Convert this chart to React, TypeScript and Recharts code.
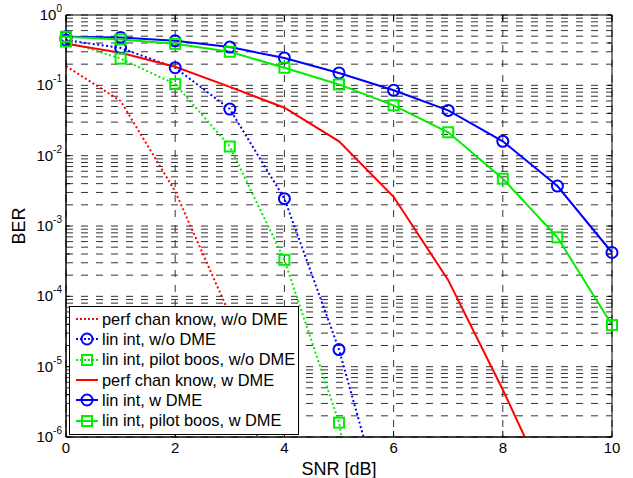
import {
    LineChart,
    Line,
    XAxis,
    YAxis,
    CartesianGrid,
    Legend,
    ReferenceArea,
    ReferenceLine,
} from 'recharts';

const snr = [0, 1, 2, 3, 4, 5, 6, 7, 8, 9, 10];

// BER (values below 1e-6 only carry the line off the bottom edge)
const perfWoDme = [0.188, 0.06, 0.0031, 5.5e-5, 2e-8];
const linWoDme = [0.44, 0.34, 0.178, 0.046, 0.00245, 1.75e-5, 3e-8];
const pilotWoDme = [0.42, 0.24, 0.104, 0.0135, 3.3e-4, 1.6e-6, 1e-10];
const perfDme = [0.39, 0.29, 0.184, 0.095, 0.048, 0.016, 0.0026, 1.7e-4, 4.7e-6, 1e-7];
const linDme = [0.49, 0.48, 0.43, 0.35, 0.245, 0.15, 0.085, 0.044, 0.016, 0.0037, 0.00042];
const pilotDme = [0.49, 0.45, 0.39, 0.3, 0.178, 0.103, 0.052, 0.0215, 0.0047, 0.00069, 3.9e-5];

const xTicks = [0, 2, 4, 6, 8, 10];
const yTicks = [1e-6, 1e-5, 1e-4, 1e-3, 1e-2, 1e-1, 1];

// log minor grid: 1..9 x 10^e
const minorGrid: number[] = [];
for (let e = -6; e < 0; e++) {
    for (let m = 1; m < 10; m++) minorGrid.push(m * Math.pow(10, e));
}
minorGrid.push(1);

type Marker = 'none' | 'circle' | 'square';

const series: { key: string; name: string; values: number[]; color: string; dotted: boolean; marker: Marker }[] = [
    { key: 'perfWoDme', name: 'perf chan know, w/o DME', values: perfWoDme, color: '#ff0000', dotted: true, marker: 'none' },
    { key: 'linWoDme', name: 'lin int, w/o DME', values: linWoDme, color: '#0000ff', dotted: true, marker: 'circle' },
    { key: 'pilotWoDme', name: 'lin int, pilot boos, w/o DME', values: pilotWoDme, color: '#00ee00', dotted: true, marker: 'square' },
    { key: 'perfDme', name: 'perf chan know, w DME', values: perfDme, color: '#ff0000', dotted: false, marker: 'none' },
    { key: 'linDme', name: 'lin int, w DME', values: linDme, color: '#0000ff', dotted: false, marker: 'circle' },
    { key: 'pilotDme', name: 'lin int, pilot boos, w DME', values: pilotDme, color: '#00ee00', dotted: false, marker: 'square' },
];

const data = snr.map((x, i) => {
    const row: Record<string, number | null> = { snr: x };
    series.forEach((s) => {
        row[s.key] = i < s.values.length ? s.values[i] : null;
    });
    return row;
});

const FONT = '"Liberation Sans", Arial, Helvetica, sans-serif';

function markerShape(marker: Marker, color: string, cx: number, cy: number, key?: string | number) {
    if (marker === 'circle') {
        return <circle key={key} cx={cx} cy={cy} r={5.5} fill="none" stroke={color} strokeWidth={2} />;
    }
    if (marker === 'square') {
        return <rect key={key} x={cx - 5} y={cy - 5} width={10} height={10} fill="none" stroke={color} strokeWidth={2} />;
    }
    return <g key={key} />;
}

const makeDot = (marker: Marker, color: string) => (props: any) => {
    const { cx, cy, index, value } = props;
    if (cx == null || cy == null || value == null) return <g key={`d${index}`} />;
    return markerShape(marker, color, cx, cy, `d${index}`);
};

const PowerTick = (props: any) => {
    const { x, y, payload } = props;
    const exp = Math.round(Math.log10(payload.value));
    return (
        <text x={x} y={y} textAnchor="end" fontFamily={FONT} fill="#000">
            <tspan dy={5} fontSize={15}>10</tspan>
            <tspan dy={-8} fontSize={10}>{exp}</tspan>
        </text>
    );
};

const LegendBox = () => (
    <div style={{ fontFamily: FONT, fontSize: 16.4, color: '#000', paddingTop: 2 }}>
        {series.map((s) => (
            <div key={s.key} style={{ display: 'flex', alignItems: 'center', height: 20.3, whiteSpace: 'nowrap' }}>
                <svg width={31} height={20} style={{ flex: 'none' }}>
                    <line
                        x1={6}
                        x2={28}
                        y1={10}
                        y2={10}
                        stroke={s.color}
                        strokeWidth={2}
                        strokeDasharray={s.dotted ? '2 2' : undefined}
                    />
                    {markerShape(s.marker, s.color, 17, 10)}
                </svg>
                <span style={{ marginLeft: 1 }}>{s.name}</span>
            </div>
        ))}
    </div>
);

const tickStroke = { stroke: '#000' };
const noTick = () => <g />;

export default function App() {
    return (
        <div style={{ position: 'absolute', left: 0, top: 0, width: 633, height: 478, background: '#fff' }}>
            <LineChart
                width={633}
                height={478}
                data={data}
                margin={{ top: 15, right: 21, bottom: 0, left: 0 }}
            >
                <CartesianGrid stroke="#333" strokeDasharray="7 8" horizontal={false} />
                {minorGrid.map((v) => (
                    <ReferenceLine key={v} y={v} stroke="#333" strokeDasharray="7 8" zIndex={-100} />
                ))}
                <XAxis
                    dataKey="snr"
                    type="number"
                    domain={[0, 10]}
                    ticks={xTicks}
                    height={41}
                    tickLine={false}
                    tickSize={0}
                    tickMargin={5}
                    axisLine={{ stroke: '#000' }}
                    tick={{ fill: '#000', fontSize: 15, fontFamily: FONT }}
                    label={{ value: 'SNR [dB]', position: 'insideBottom', offset: 3, fill: '#000', fontSize: 18, fontFamily: FONT }}
                />
                {/* inward tick marks, MATLAB style */}
                <XAxis xAxisId="bIn" type="number" domain={[0, 10]} ticks={xTicks} mirror height={1}
                    tick={noTick} tickSize={6} tickLine={tickStroke} axisLine={false} />
                <XAxis xAxisId="tIn" orientation="top" type="number" domain={[0, 10]} ticks={xTicks} mirror height={1}
                    tick={noTick} tickSize={6} tickLine={tickStroke} axisLine={false} />
                <YAxis
                    scale="log"
                    domain={[1e-6, 1]}
                    allowDataOverflow
                    ticks={yTicks}
                    width={66}
                    tickLine={false}
                    tickSize={0}
                    tickMargin={4}
                    axisLine={{ stroke: '#000' }}
                    tick={<PowerTick />}
                    label={{
                        value: 'BER',
                        angle: -90,
                        position: 'insideLeft',
                        offset: 19,
                        fill: '#000',
                        fontSize: 18,
                        fontFamily: FONT,
                        style: { textAnchor: 'middle' },
                    }}
                />
                <YAxis yAxisId="lIn" scale="log" domain={[1e-6, 1]} allowDataOverflow ticks={minorGrid} mirror width={1}
                    tick={noTick} tickSize={4} tickLine={tickStroke} axisLine={false} />
                <YAxis yAxisId="rIn" orientation="right" scale="log" domain={[1e-6, 1]} allowDataOverflow ticks={minorGrid}
                    mirror width={1} tick={noTick} tickSize={4} tickLine={tickStroke} axisLine={false} />
                <ReferenceArea x1={0} x2={10} y1={1e-6} y2={1} fill="none" stroke="#000" strokeWidth={1} />
                {series.map((s) => (
                    <Line
                        key={s.key}
                        dataKey={s.key}
                        name={s.name}
                        type="linear"
                        stroke={s.color}
                        strokeWidth={2}
                        strokeDasharray={s.dotted ? '2 2.5' : undefined}
                        dot={makeDot(s.marker, s.color)}
                        activeDot={false}
                        connectNulls={false}
                        isAnimationActive={false}
                    />
                ))}
                <Legend
                    layout="vertical"
                    align="center"
                    verticalAlign="middle"
                    content={<LegendBox />}
                    wrapperStyle={{
                        left: 69,
                        top: 306,
                        width: 230,
                        height: 129,
                        background: '#fff',
                        border: '1px solid #000',
                        boxSizing: 'border-box',
                    }}
                />
            </LineChart>
        </div>
    );
}
